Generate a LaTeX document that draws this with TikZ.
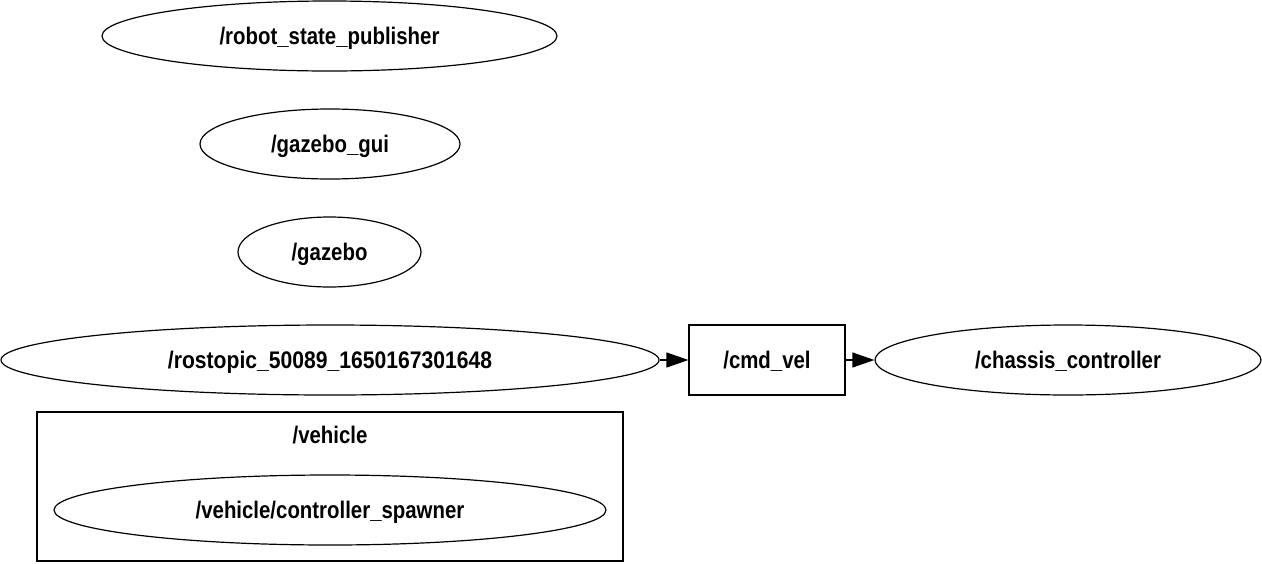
\documentclass[tikz,border=0pt]{standalone}
\usepackage{fontspec}
\setmainfont{Liberation Sans}[FakeStretch=0.85]
\usetikzlibrary{shapes.geometric,arrows.meta}
\begin{document}
\begin{tikzpicture}[x=1pt,y=-1pt,
  every node/.style={font=\fontsize{24}{26}\selectfont\bfseries, line width=1.2pt, inner sep=0pt,
    text height=21pt, text depth=5pt},
  rosnode/.style={draw, ellipse, minimum height=70pt},
  topic/.style={draw, rectangle, minimum height=70pt},
  group/.style={draw, rectangle},
  link/.style={line width=1.2pt, -{Triangle[length=22pt,width=15pt]}}]
\useasboundingbox (0,0) rectangle (1262,563);
\node[rosnode, minimum width=455pt] (rsp) at (329.5,36) {/robot\_state\_publisher};
\node[rosnode, minimum width=260pt] (gui) at (330,144) {/gazebo\_gui};
\node[rosnode, minimum width=183pt] (gz) at (329.5,252) {/gazebo};
\node[rosnode, minimum width=658pt] (rt) at (330,360) {\addfontfeatures{FakeStretch=0.88}/rostopic\_50089\_1650167301648};
\node[topic, minimum width=156pt] (cmd) at (767,360) {/cmd\_vel};
\node[rosnode, minimum width=386pt] (cc) at (1068,360) {/chassis\_controller};
\node[group, minimum width=586pt, minimum height=149pt] (veh) at (330,486.5) {};
\node (vehlbl) at (330,435) {/vehicle};
\node[rosnode, minimum width=552pt] (cs) at (330,510) {/vehicle/controller\_spawner};
\draw[link] (rt) -- (cmd);
\draw[link] (cmd) -- (cc);
\end{tikzpicture}
\end{document}
